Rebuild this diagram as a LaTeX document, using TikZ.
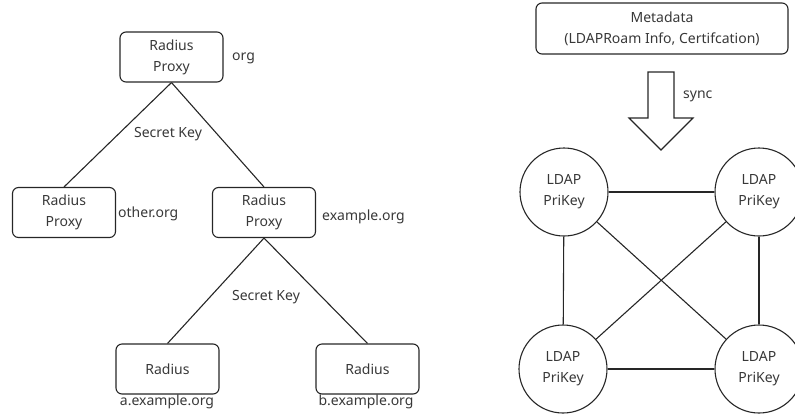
\documentclass[tikz,border=0pt]{standalone}
\usepackage{fontspec}
\setmainfont{Noto Sans}
\begin{document}
\begin{tikzpicture}[x=1pt,y=-1pt,
  every node/.style={font=\fontsize{14}{21}\selectfont, text=black!78},
  box/.style={draw=black!85, line width=1.1pt, rounded corners=6pt, align=center, inner sep=0pt, minimum width=103pt, minimum height=50pt},
  peer/.style={draw=black!85, line width=1.1pt, circle, align=center, inner sep=0pt, minimum size=88pt},
  link/.style={draw=black!85, line width=1.1pt},
  lbl/.style={inner sep=0pt}]
\useasboundingbox (0,0) rectangle (795,416);
% left tree
\node[box] (top) at (171.5,57) {Radius\\Proxy};
\node[box] (other) at (64,212.5) {Radius\\Proxy};
\node[box] (ex) at (264,212.5) {Radius\\Proxy};
\node[box] (a) at (167.5,369) {Radius};
\node[box] (b) at (367.5,369) {Radius};
\draw[link] (top.south) -- (other.north);
\draw[link] (top.south) -- (ex.north);
\draw[link] (ex.south) -- (a.north);
\draw[link] (ex.south) -- (b.north);
\node[lbl, anchor=west] (lorg) at (232,58) {org};
\node[lbl, anchor=west] (lother) at (118,214) {other.org};
\node[lbl, anchor=west] (lex) at (322,217) {example.org};
\node[lbl] (la) at (167,402) {a.example.org};
\node[lbl] (lb) at (366,402) {b.example.org};
\node[lbl] (sk1) at (168,134) {Secret Key};
\node[lbl] (sk2) at (266,297) {Secret Key};
% right side
\node[box, minimum width=252pt, minimum height=51pt] (meta) at (662,28.5) {Metadata\\(LDAPRoam Info, Certifcation)};
\draw[draw=black!85, line width=1.1pt, line join=miter] (648,72) -- (674,72) -- (674,118) -- (693,118) -- (661,150) -- (629,118) -- (648,118) -- cycle;
\node[lbl, anchor=west] (sync) at (683,96) {sync};
\node[peer] (tl) at (564,192) {LDAP\\PriKey};
\node[peer] (tr) at (759,192) {LDAP\\PriKey};
\node[peer] (bl) at (563,369) {LDAP\\PriKey};
\node[peer] (br) at (759,369) {LDAP\\PriKey};
\draw[link] (tl) -- (tr);
\draw[link] (bl) -- (br);
\draw[link] (tl) -- (bl);
\draw[link] (tr) -- (br);
\draw[link] (tl) -- (br);
\draw[link] (tr) -- (bl);
\end{tikzpicture}
\end{document}
